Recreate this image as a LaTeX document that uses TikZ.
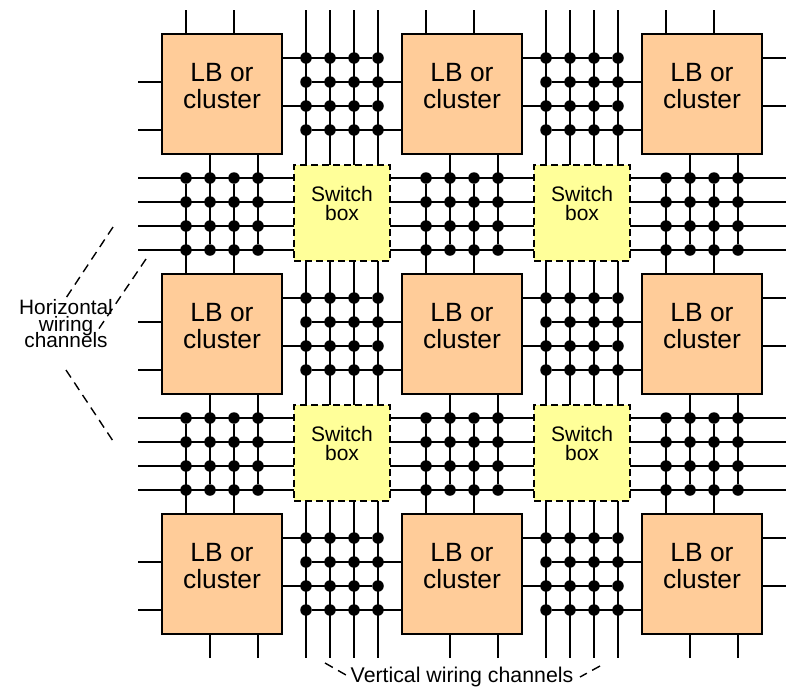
\documentclass[tikz,border=0pt]{standalone}
\usepackage{fontspec}
\setmainfont{Liberation Sans}
\usetikzlibrary{backgrounds}
\tikzset{
  lbbox/.style={draw=black,fill=lbfill,line width=2.8pt,minimum size=120pt,inner sep=0pt,outer sep=0pt,align=center,font=\fontsize{26.4}{27.5}\selectfont},
  swbox/.style={draw=black,fill=swfill,line width=1.8pt,dash pattern=on 7pt off 4pt,minimum size=96pt,inner sep=0pt,outer sep=0pt,align=center,font=\fontsize{21}{19}\selectfont},
  dot/.style={circle,fill=black,inner sep=0pt,outer sep=0pt,minimum size=11.5pt},
  wire/.style={draw=black,line width=2pt},
  guide/.style={draw=black,line width=1.4pt,dash pattern=on 9pt off 6pt},
  lbl/.style={inner sep=0pt,outer sep=0pt,align=center,font=\fontsize{20.8}{17}\selectfont},
  lblv/.style={inner sep=0pt,outer sep=0pt,font=\fontsize{21.3}{24}\selectfont}
}
\definecolor{lbfill}{HTML}{FFCC99}
\definecolor{swfill}{HTML}{FFFF99}
\begin{document}
\begin{tikzpicture}[x=1pt,y=-1pt]
\useasboundingbox (0,0) rectangle (786,686);
% logic blocks
\foreach \c in {0,1,2}{\foreach \r in {0,1,2}{
  \pgfmathtruncatemacro{\X}{222+240*\c}
  \pgfmathtruncatemacro{\Y}{94+240*\r}
  \node[lbbox] (lb-\c-\r) at (\X,\Y) {LB or\\cluster\\[-11.5pt]};
}}
% switch boxes
\foreach \c in {0,1}{\foreach \r in {0,1}{
  \pgfmathtruncatemacro{\X}{342+240*\c}
  \pgfmathtruncatemacro{\Y}{213+240*\r}
  \node[swbox] (sw-\c-\r) at (\X,\Y) {Switch\\box\\[1pt]};
}}
% dots of the vertical channels
\foreach \X in {306,330,354,378,546,570,594,618}{
  \foreach \Y in {58,82,106,130,298,322,346,370,538,562,586,610}{
    \node[dot] (d-\X-\Y) at (\X,\Y) {};
}}
% dots of the horizontal channels
\foreach \X in {186,210,234,258,426,450,474,498,666,690,714,738}{
  \foreach \Y in {178,202,226,250,418,442,466,490}{
    \node[dot] (d-\X-\Y) at (\X,\Y) {};
}}
% free ends
\foreach \X in {306,330,354,378,546,570,594,618}{
  \coordinate (vt-\X) at (\X,10);
  \coordinate (vb-\X) at (\X,658);
}
\foreach \Y in {178,202,226,250,418,442,466,490}{
  \coordinate (hl-\Y) at (138,\Y);
  \coordinate (hr-\Y) at (786,\Y);
}
\begin{pgfonlayer}{background}
  % through tracks
  \foreach \X in {306,330,354,378,546,570,594,618}{
    \draw[wire] (vt-\X) -- (vb-\X);
  }
  \foreach \Y in {178,202,226,250,418,442,466,490}{
    \draw[wire] (hl-\Y) -- (hr-\Y);
  }
  % block pins, vertical
  \foreach \c in {0,1,2}{
    \pgfmathtruncatemacro{\Xa}{186+240*\c}
    \pgfmathtruncatemacro{\Xb}{210+240*\c}
    \pgfmathtruncatemacro{\Xc}{234+240*\c}
    \pgfmathtruncatemacro{\Xd}{258+240*\c}
    \foreach \X in {\Xa,\Xc}{
      \coordinate (pt-\X) at (\X,10);
      \draw[wire] (pt-\X) -- (pt-\X |- lb-\c-0.north);
      \draw[wire] (d-\X-178) -- (d-\X-178 |- lb-\c-1.north);
      \draw[wire] (d-\X-418) -- (d-\X-418 |- lb-\c-2.north);
    }
    \foreach \X in {\Xb,\Xd}{
      \coordinate (pb-\X) at (\X,658);
      \draw[wire] (pb-\X) -- (pb-\X |- lb-\c-2.south);
      \draw[wire] (d-\X-250) -- (d-\X-250 |- lb-\c-0.south);
      \draw[wire] (d-\X-490) -- (d-\X-490 |- lb-\c-1.south);
    }
  }
  % block pins, horizontal
  \foreach \r in {0,1,2}{
    \pgfmathtruncatemacro{\Ya}{58+240*\r}
    \pgfmathtruncatemacro{\Yb}{82+240*\r}
    \pgfmathtruncatemacro{\Yc}{106+240*\r}
    \pgfmathtruncatemacro{\Yd}{130+240*\r}
    \foreach \Y in {\Yb,\Yd}{
      \coordinate (pl-\Y) at (138,\Y);
      \draw[wire] (pl-\Y) -- (pl-\Y -| lb-0-\r.west);
      \draw[wire] (d-306-\Y) -- (d-306-\Y -| lb-1-\r.west);
      \draw[wire] (d-546-\Y) -- (d-546-\Y -| lb-2-\r.west);
    }
    \foreach \Y in {\Ya,\Yc}{
      \coordinate (pr-\Y) at (786,\Y);
      \draw[wire] (pr-\Y) -- (pr-\Y -| lb-2-\r.east);
      \draw[wire] (d-378-\Y) -- (d-378-\Y -| lb-0-\r.east);
      \draw[wire] (d-618-\Y) -- (d-618-\Y -| lb-1-\r.east);
    }
    % rungs of the vertical channels, dot to dot
    \foreach \Y in {\Ya,\Yb,\Yc,\Yd}{
      \draw[wire] (d-306-\Y) -- (d-378-\Y);
      \draw[wire] (d-546-\Y) -- (d-618-\Y);
    }
  }
  % rungs of the horizontal channels, dot to dot
  \foreach \c in {0,1,2}{
    \pgfmathtruncatemacro{\Xa}{186+240*\c}
    \pgfmathtruncatemacro{\Xb}{210+240*\c}
    \pgfmathtruncatemacro{\Xc}{234+240*\c}
    \pgfmathtruncatemacro{\Xd}{258+240*\c}
    \foreach \X in {\Xa,\Xb,\Xc,\Xd}{
      \draw[wire] (d-\X-178) -- (d-\X-250);
      \draw[wire] (d-\X-418) -- (d-\X-490);
    }
  }
\end{pgfonlayer}
% labels
\node[lbl] (hlabel) at (66,323.5) {Horizontal\\wiring\\[-4pt]channels};
\node[lblv,anchor=base] (vlabel) at (462,682) {Vertical wiring channels};
% guide lines
\coordinate (ga1) at (113,227); \coordinate (ga2) at (66,298);
\coordinate (gb1) at (146,259); \coordinate (gb2) at (98,330);
\coordinate (gc1) at (66,370);  \coordinate (gc2) at (113,441);
\coordinate (gd1) at (325,663); \coordinate (gd2) at (346,675);
\coordinate (ge1) at (600,666); \coordinate (ge2) at (580,677);
\draw[guide] (ga1) -- (ga2);
\draw[guide] (gb1) -- (gb2);
\draw[guide] (gc1) -- (gc2);
\draw[guide] (gd1) -- (gd2);
\draw[guide] (ge1) -- (ge2);
\end{tikzpicture}
\end{document}
